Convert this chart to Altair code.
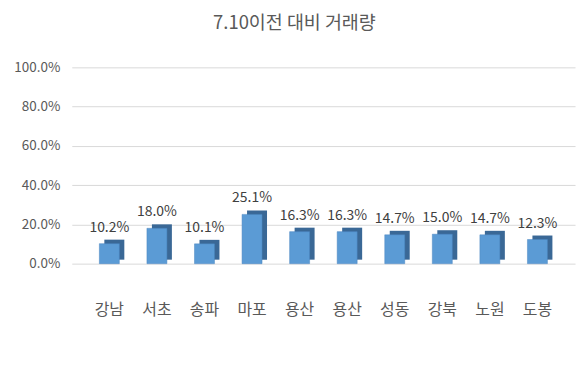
import altair as alt
import pandas as pd

regions = ["강남", "서초", "송파", "마포", "용산", "용산 ", "성동", "강북", "노원", "도봉"]
values = [0.102, 0.180, 0.101, 0.251, 0.163, 0.163, 0.147, 0.150, 0.147, 0.123]
labels = ["10.2%", "18.0%", "10.1%", "25.1%", "16.3%", "16.3%", "14.7%", "15.0%", "14.7%", "12.3%"]

df = pd.DataFrame({"region": regions, "value": values, "label": labels})

FONT = "Noto Sans CJK KR"
GRAY = "#595959"

x = alt.X("region:N", sort=regions,
          scale=alt.Scale(paddingInner=0.58, paddingOuter=0.58),
          axis=alt.Axis(title=None, labelAngle=0, labelFontSize=16, labelColor=GRAY,
                        labelFont=FONT, ticks=False, domain=False, grid=False, labelPadding=38,
                        labelExpr="trim(datum.label)"))
y = alt.Y("value:Q", scale=alt.Scale(domain=[0, 1]),
          axis=alt.Axis(title=None, format=".1%", values=[0, 0.2, 0.4, 0.6, 0.8, 1.0],
                        labelFontSize=13.5, labelColor=GRAY, labelFont=FONT,
                        ticks=False, domain=False, gridColor="#d9d9d9", labelPadding=12))

base = alt.Chart(df).encode(x=x, y=y)

side = base.mark_bar(color="#3a6896", xOffset=5, yOffset=-4)
front = base.mark_bar(color="#5b9bd5", stroke="#4a86c0", strokeWidth=0.5)
text = base.mark_text(dy=-16, fontSize=14, color="#404040", font=FONT).encode(text="label:N")

chart = (side + front + text).properties(
    width=505, height=197,
    background="white",
    title=alt.Title("7.10이전 대비 거래량", fontSize=18.5, font=FONT, color=GRAY,
                    fontWeight="normal", offset=28, anchor="middle", frame="bounds"),
).configure_view(stroke="transparent", strokeWidth=0)

chart.save("out.html", embed_options={"renderer": "svg", "actions": False})
